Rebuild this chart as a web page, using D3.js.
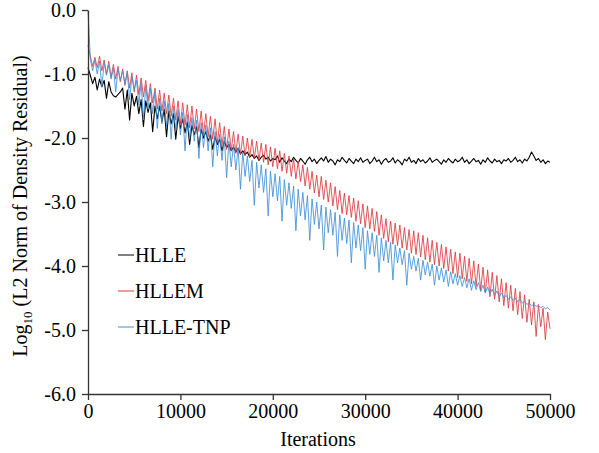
<!DOCTYPE html>
<html>
<head>
<meta charset="utf-8">
<script src="https://cdn.jsdelivr.net/npm/d3@7"></script>
<style>
  body { margin: 0; background: #fff; }
  svg text { font-family: "Liberation Serif", Tinos, "Times New Roman", "DejaVu Serif", serif !important; fill: #000; }
</style>
</head>
<body>
<div id="chart"></div>
<script>
// samples every 250 iterations, 0..50000
const iterStep = 250;

const hlle = [
  -0.90,
  -1.02, -1.15, -1.05, -1.25, -1.08, -1.20, -1.10, -1.38, -1.12, -1.28,
  -1.34, -1.36, -1.32, -1.28, -1.22, -1.55, -1.25, -1.72, -1.30, -1.50,
  -1.35, -1.62, -1.40, -1.82, -1.42, -1.60, -1.45, -1.90, -1.50, -1.70,
  -1.50, -1.75, -1.55, -1.98, -1.58, -1.78, -1.62, -2.02, -1.66, -1.85,
  -1.70, -1.92, -1.75, -2.10, -1.80, -1.95, -1.82, -2.15, -1.86, -2.00,
  -1.90, -2.05, -1.95, -2.18, -1.98, -2.10, -2.02, -2.20, -2.05, -2.15,
  -2.10, -2.20, -2.14, -2.22, -2.16, -2.25, -2.20, -2.26, -2.22, -2.30,
  -2.26, -2.32, -2.28, -2.35, -2.30, -2.27, -2.33, -2.30, -2.36, -2.32,
  -2.34, -2.28, -2.38, -2.31, -2.36, -2.40, -2.33, -2.37, -2.30, -2.35,
  -2.39, -2.32, -2.36, -2.41, -2.34, -2.30, -2.37, -2.33, -2.40, -2.35,
  -2.31, -2.36, -2.29, -2.38, -2.33, -2.36, -2.42, -2.34, -2.37, -2.30,
  -2.35, -2.39, -2.32, -2.36, -2.40, -2.33, -2.37, -2.31, -2.38, -2.35,
  -2.33, -2.40, -2.36, -2.30, -2.37, -2.34, -2.41, -2.35, -2.32, -2.38,
  -2.36, -2.31, -2.39, -2.34, -2.37, -2.42, -2.33, -2.36, -2.30, -2.38,
  -2.35, -2.40, -2.32, -2.37, -2.34, -2.39, -2.36, -2.31, -2.38, -2.35,
  -2.33, -2.37, -2.41, -2.34, -2.38, -2.32, -2.36, -2.39, -2.33, -2.37,
  -2.35, -2.30, -2.38, -2.34, -2.40, -2.36, -2.32, -2.37, -2.35, -2.41,
  -2.34, -2.38, -2.31, -2.36, -2.39, -2.33, -2.37, -2.35, -2.40, -2.34,
  -2.36, -2.32, -2.38, -2.35, -2.30, -2.37, -2.34, -2.39, -2.33, -2.36,
  -2.30, -2.22, -2.28, -2.35, -2.32, -2.38, -2.34, -2.40, -2.36, -2.38
];

const hllem = [
  -0.55,
  -0.72, -0.88, -0.74, -0.90, -0.72, -0.95, -0.78, -1.00, -0.80, -1.05,
  -0.85, -1.08, -0.88, -1.12, -0.92, -1.18, -0.95, -1.22, -0.98, -1.28,
  -1.02, -1.32, -1.06, -1.36, -1.10, -1.42, -1.15, -1.45, -1.22, -1.55,
  -1.25, -1.58, -1.30, -1.62, -1.33, -1.66, -1.38, -1.72, -1.42, -1.78,
  -1.45, -1.80, -1.48, -1.84, -1.50, -1.86, -1.55, -1.90, -1.58, -1.95,
  -1.62, -1.98, -1.66, -2.02, -1.70, -2.08, -1.76, -2.12, -1.82, -2.18,
  -1.86, -2.20, -1.90, -2.24, -1.94, -2.26, -1.97, -2.28, -2.00, -2.30,
  -2.02, -2.32, -2.05, -2.35, -2.08, -2.38, -2.10, -2.42, -2.14, -2.45,
  -2.16, -2.48, -2.20, -2.52, -2.24, -2.55, -2.28, -2.60, -2.32, -2.64,
  -2.36, -2.68, -2.42, -2.75, -2.46, -2.80, -2.52, -2.86, -2.58, -2.92,
  -2.60, -2.96, -2.66, -3.00, -2.70, -3.06, -2.76, -3.12, -2.82, -3.18,
  -2.86, -3.20, -2.90, -3.24, -2.94, -3.30, -2.98, -3.34, -3.03, -3.40,
  -3.06, -3.42, -3.10, -3.46, -3.15, -3.52, -3.20, -3.57, -3.26, -3.62,
  -3.30, -3.66, -3.33, -3.68, -3.36, -3.72, -3.40, -3.75, -3.43, -3.80,
  -3.45, -3.82, -3.48, -3.86, -3.52, -3.90, -3.56, -3.94, -3.60, -3.98,
  -3.63, -4.00, -3.66, -4.04, -3.70, -4.08, -3.74, -4.12, -3.78, -4.18,
  -3.80, -4.20, -3.85, -4.24, -3.88, -4.28, -3.92, -4.32, -3.97, -4.38,
  -4.02, -4.42, -4.06, -4.48, -4.10, -4.52, -4.15, -4.56, -4.20, -4.62,
  -4.26, -4.66, -4.30, -4.70, -4.35, -4.76, -4.40, -4.82, -4.45, -4.88,
  -4.52, -4.92, -4.56, -5.10, -4.60, -4.95, -4.66, -5.15, -4.72, -4.98
];

const hlleTnp = [
  -0.02,
  -0.76, -0.95, -0.78, -1.00, -0.80, -1.20, -0.82, -1.02, -0.86, -1.08,
  -0.90, -1.28, -0.92, -1.10, -0.95, -1.15, -0.98, -1.40, -1.03, -1.25,
  -1.10, -1.48, -1.14, -1.72, -1.18, -1.55, -1.22, -1.62, -1.28, -1.85,
  -1.38, -1.78, -1.42, -1.82, -1.46, -2.02, -1.50, -1.88, -1.56, -1.95,
  -1.60, -2.20, -1.63, -2.02, -1.68, -2.05, -1.72, -2.32, -1.76, -2.15,
  -1.80, -2.20, -1.84, -2.45, -1.90, -2.28, -1.94, -2.35, -1.98, -2.62,
  -2.05, -2.45, -2.10, -2.50, -2.15, -2.80, -2.22, -2.60, -2.28, -2.68,
  -2.35, -3.05, -2.38, -2.78, -2.42, -2.85, -2.48, -3.22, -2.52, -2.92,
  -2.56, -2.98, -2.60, -3.30, -2.65, -3.05, -2.70, -3.10, -2.75, -3.45,
  -2.80, -3.22, -2.85, -3.28, -2.90, -3.60, -2.95, -3.35, -3.00, -3.42,
  -3.05, -3.75, -3.08, -3.48, -3.12, -3.52, -3.16, -3.85, -3.20, -3.60,
  -3.25, -3.65, -3.28, -3.95, -3.32, -3.72, -3.36, -3.76, -3.40, -4.05,
  -3.45, -3.82, -3.48, -3.85, -3.52, -4.10, -3.56, -3.92, -3.60, -3.95,
  -3.63, -4.22, -3.67, -3.95, -3.72, -3.98, -3.76, -4.30, -3.80, -4.05,
  -3.85, -4.08, -3.88, -4.22, -3.91, -4.14, -3.94, -4.16, -3.97, -4.30,
  -4.00, -4.22, -4.03, -4.25, -4.06, -4.32, -4.09, -4.28, -4.12, -4.30,
  -4.15, -4.32, -4.18, -4.34, -4.20, -4.38, -4.23, -4.37, -4.26, -4.40,
  -4.30, -4.42, -4.33, -4.44, -4.36, -4.47, -4.39, -4.48, -4.42, -4.50,
  -4.46, -4.52, -4.48, -4.54, -4.50, -4.56, -4.52, -4.58, -4.55, -4.60,
  -4.58, -4.62, -4.60, -4.63, -4.62, -4.65, -4.63, -4.67, -4.65, -4.69
];

const seriesNames = ['HLLE', 'HLLEM', 'HLLE-TNP'];
const seriesColors = ['#000000', '#db3a40', '#3d8fd8'];
const xTicks = [0, 10000, 20000, 30000, 40000, 50000];
const yTicks = [0, -1, -2, -3, -4, -5, -6];

const width = 599, height = 453;
const plot = { left: 88, right: 550, top: 10, bottom: 394 };
const serif = '"Liberation Serif", Tinos, "Times New Roman", "DejaVu Serif", serif';

const svg = d3.select('#chart').append('svg')
  .attr('width', width)
  .attr('height', height)
  .attr('font-family', serif);

const x = d3.scaleLinear().domain([0, 50000]).range([plot.left, plot.right]);
const y = d3.scaleLinear().domain([-6, 0]).range([plot.bottom, plot.top]);

const allSeries = [hlle, hllem, hlleTnp];

const line = d3.line()
  .x((d, i) => x(i * iterStep))
  .y(d => y(d));

svg.append('g')
  .selectAll('path')
  .data(allSeries)
  .enter()
  .append('path')
  .attr('d', line)
  .attr('fill', 'none')
  .attr('stroke', (d, i) => seriesColors[i])
  .attr('stroke-width', (d, i) => i === 0 ? 1.1 : 0.85)
  .attr('stroke-linejoin', 'round');

// axes
const yAxis = svg.append('g')
  .attr('transform', `translate(${plot.left},0)`)
  .call(d3.axisLeft(y).tickValues(yTicks).tickSize(6).tickSizeOuter(0)
    .tickFormat(d => d.toFixed(1)));

const xAxis = svg.append('g')
  .attr('transform', `translate(0,${plot.bottom})`)
  .call(d3.axisBottom(x).tickValues(xTicks).tickSize(6).tickSizeOuter(0)
    .tickFormat(d => String(d)));

[yAxis, xAxis].forEach(g => {
  g.attr('font-family', serif);
  g.select('.domain').attr('stroke', '#333').attr('stroke-width', 1.3);
  g.selectAll('.tick line').attr('stroke', '#333').attr('stroke-width', 1.3);
  g.selectAll('.tick text')
    .style('font-family', serif)
    .attr('font-size', 20)
    .attr('fill', '#000');
});
yAxis.selectAll('.tick text').attr('x', -12);
xAxis.selectAll('.tick text').attr('y', 10);

// axis titles
svg.append('text')
  .attr('x', 318)
  .attr('y', 446)
  .attr('text-anchor', 'middle')
  .attr('font-size', 20)
  .style('font-family', serif)
  .text('Iterations');

const yTitle = svg.append('text')
  .attr('transform', 'translate(27,206) rotate(-90)')
  .attr('text-anchor', 'middle')
  .attr('font-size', 20)
  .style('font-family', serif);
yTitle.append('tspan').text('Log');
yTitle.append('tspan').attr('font-size', 13).attr('dy', 5).text('10');
yTitle.append('tspan').attr('dy', -5).text(' (L2 Norm of Density Residual)');

// legend
const legend = svg.append('g').attr('transform', 'translate(118,255)');
seriesNames.forEach((name, i) => {
  const row = legend.append('g').attr('transform', `translate(0,${i * 36})`);
  row.append('line')
    .attr('x1', 0).attr('x2', 16).attr('y1', 0).attr('y2', 0)
    .attr('stroke', seriesColors[i]).attr('stroke-width', 1);
  row.append('text')
    .attr('x', 17)
    .attr('y', 7)
    .attr('font-size', 20)
    .style('font-family', serif)
    .text(name);
});
</script>
</body>
</html>
